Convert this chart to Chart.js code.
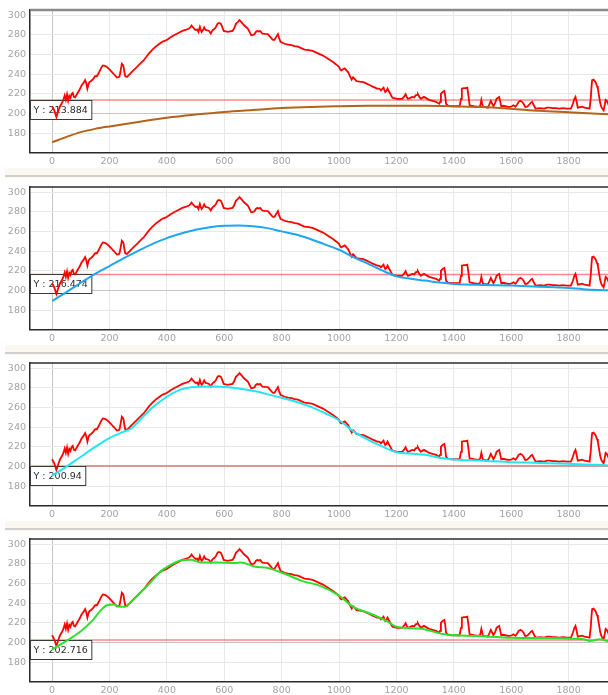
<!DOCTYPE html>
<html>
<head>
<meta charset="utf-8">
<script src="https://cdn.jsdelivr.net/npm/chart.js@4.4.1/dist/chart.umd.min.js"></script>
<style>
  html, body { margin: 0; padding: 0; background: #fff; overflow: hidden; width: 608px; height: 695px; }
  .panel { position: absolute; left: 0; width: 640px; height: 176px; }
  .panel canvas { display: block; }
  .sep { position: absolute; left: 5px; width: 640px; height: 10px; background: #fbf7f3; z-index: 2; }
  .sep::after { content: ""; position: absolute; left: 0; right: 0; top: 7px; height: 2px; background: #d3cec9; }
</style>
</head>
<body>
<div class="panel" style="top:0px"><canvas id="c0" width="640" height="176"></canvas></div>
<div class="panel" style="top:177px"><canvas id="c1" width="640" height="176"></canvas></div>
<div class="panel" style="top:353px"><canvas id="c2" width="640" height="176"></canvas></div>
<div class="panel" style="top:529px"><canvas id="c3" width="640" height="176"></canvas></div>
<div class="sep" style="top:168px"></div>
<div class="sep" style="top:345px"></div>
<div class="sep" style="top:521px"></div>

<script>
// ---- axis ticks ----
const xTicks = [0, 200, 400, 600, 800, 1000, 1200, 1400, 1600, 1800];
const yTicks = [180, 200, 220, 240, 260, 280, 300];

// ---- measured signal (x, y) ----
const signalX = [0,8,15,22,27,33,39,44,48,52,56,60,64,68,72,76,80,85,91,97,103,109,115,119,123,127,130,136,144,150,156,162,167,172,177,184,191,200,208,216,226,232,235,239,243,247,249,252,255,261,270,278,287,296,308,319,328,337,348,360,372,384,392,401,413,425,440,454,465,477,483,486,490,495,500,506,510,515,518,521,526,530,535,541,547,553,556,559,565,571,575,579,584,588,593,598,605,612,620,629,635,641,647,653,658,664,670,676,682,688,694,700,705,710,715,720,726,730,734,742,752,760,766,770,775,781,787,791,796,803,810,822,834,845,857,868,880,894,908,925,944,960,979,990,1000,1004,1008,1014,1020,1026,1032,1038,1044,1049,1055,1061,1072,1085,1096,1108,1117,1126,1132,1138,1142,1146,1150,1155,1158,1161,1165,1169,1173,1179,1184,1188,1195,1202,1212,1220,1226,1232,1236,1240,1248,1255,1262,1267,1272,1275,1280,1285,1290,1296,1305,1314,1326,1338,1349,1352,1355,1361,1367,1370,1373,1380,1391,1405,1420,1425,1428,1435,1442,1447,1451,1455,1470,1485,1492,1496,1499,1502,1510,1518,1523,1529,1534,1538,1544,1549,1553,1558,1562,1565,1572,1579,1588,1596,1602,1608,1615,1620,1626,1632,1638,1643,1649,1656,1664,1668,1673,1678,1685,1700,1715,1725,1732,1745,1755,1767,1780,1795,1808,1815,1820,1824,1828,1832,1840,1848,1855,1865,1873,1877,1880,1882,1887,1894,1899,1902,1906,1910,1914,1918,1922,1926,1929,1933,1938,1942,1946,1955,1965];
const signalY = [207.5,203,196.5,203,207,210,213.6,218.6,214,219.5,213,218,216,220,221,217,216.5,219,222,225,228.8,231,234,231,225.4,230,232,233,235.6,238,238,241,244,247,249,248.5,247.5,245,242.4,240,236.6,237,238,244,250.8,249.5,248,242,238,237.3,240,242.4,245,247.5,251,254,257.5,261,264.5,267.8,270.5,273,274,275,277.5,279.7,282,284,285,286.4,288,289.5,288,286.4,285,285.4,283,288,285,283,285,287.5,285,284.7,284,281.4,283,284.7,286,288,290.5,292,292,291.5,288,284,283.5,283,283.5,284,287,291.5,293,295,293.5,291.5,289.5,288,286.4,283,279.7,280,280.7,283,284,283.5,284,282,281.4,281,280.7,278,276,275,275,278,280.7,277,273,272,271,270,269.5,268.5,268,266.5,265,264.5,263.7,261.5,259,256,252.5,250,247.5,245,244,245,246,244,242,238,234.6,237,235,233,232.5,232,230.5,228.8,227.5,226.4,225.5,225.4,225,223.7,225,226.4,224,222,223,225.4,223,220,217,216,215.5,215,215,215,217,219.7,217,215,216,217,216.5,218.6,219,219.7,217,215,216,217,215.5,214,213,212,210,212,220,222,223,218,210,208,207.5,207.5,207.5,215,225.4,226,226,226.4,218,208.5,207.5,206.8,208,214,210,206.8,206.5,206,209,213,210,207.5,211,215,216,217,212,207.5,208,207.5,207,206.8,207.5,208.5,207,209,212,213,212,210,206.8,207,209.5,211,212,209,205,205.5,205,206,206,205.5,205.5,205,205.5,205,205,210,215,217,212,206,206.5,207,206,205.5,205,215,228,234,234.5,232,228,225.4,218,211,206.8,205,203.4,209,214,213,210,206,203,202.5,202];

// ---- fitted curves, one per panel ----
const fit1X = [0,50,100,150,200,300,400,500,600,700,800,900,1000,1100,1200,1300,1400,1500,1600,1700,1800,1900,2000];
const fit1Y = [170.8,176.4,181.2,184.5,187,191.5,195.8,199,201.7,203.7,205.6,206.8,207.5,208,208.1,208,207.5,206.8,205,202.8,201.4,200,198.6];

const fit2X = [0,50,100,150,200,250,300,350,400,450,500,550,600,650,700,750,800,850,900,950,1000,1050,1100,1150,1200,1250,1300,1350,1400,1500,1600,1700,1800,1850,1900,2000];
const fit2Y = [189.5,198.5,208,217,225,233,240.5,247.5,253.4,258,261.9,264.5,266,266.3,265.5,263.5,260.2,257,252.5,247,241.5,234,227.5,220.5,214.5,212,210.2,208.2,206.8,205.8,205.1,204,202.7,201.5,200.7,200];

const fit3X = [0,50,100,150,200,250,275,300,350,400,450,500,550,600,650,700,750,800,850,900,950,1000,1050,1100,1150,1200,1250,1300,1350,1400,1500,1600,1700,1800,1900,1950,2000];
const fit3Y = [190.8,200,210,220,229,235.5,238.5,245.5,260,271,278.5,281,281.3,281,279.5,277,273.7,270,266,261,254.5,247.1,235.8,227.5,220.5,214.7,213.3,212,209,207.2,206,204.5,203.8,202.8,201.8,201,200.5];

const fit4X = [0,50,100,144,167,191,214,237,255,272,307,343,378,413,448,483,518,577,635,658,705,752,810,873,932,1000,1049,1108,1167,1200,1285,1367,1485,1602,1696,1814,1860,1873,1890,1908,1946,2000];
const fit4Y = [193,201.7,211.5,223.6,232,238,238.7,236.4,236.4,240.4,250.5,261.3,272.4,279.1,283.5,284.2,281.5,281.5,280.8,281.5,277.4,275.8,270,262.5,257.9,247.8,236.4,229.6,221.9,216.2,214.1,208.4,206.7,205,204.7,204,203,201.7,202.5,203.4,200.7,200];

// ---- reference levels shown by the horizontal line and its tag ----
const refLevels = [213.884, 216.474, 200.94, 202.716];

const fitColors = ['#b5631a', '#1ea6f0', '#22e6f2', '#2ee02e'];
const topBorder = [{ c: '#8a8a8a', w: 2.5 }, { c: '#2a2a2a', w: 1.5 }, { c: '#2a2a2a', w: 1.5 }, { c: '#2a2a2a', w: 1.5 }];

const X_MIN = -77, X_MAX = 2000;
const Y_MIN = 160.5, Y_MAX = 305.3;

const zip = (xs, ys) => xs.map((x, i) => ({ x, y: ys[i] }));

// Draws the top edge of the plot frame.
const frameTop = {
  id: 'frameTop',
  afterDraw(chart, args, opts) {
    const { ctx, chartArea: a } = chart;
    ctx.save();
    ctx.strokeStyle = opts.color;
    ctx.lineWidth = opts.width;
    ctx.beginPath();
    ctx.moveTo(a.left, a.top);
    ctx.lineTo(a.right, a.top);
    ctx.stroke();
    ctx.restore();
  }
};

// Value tag hanging under the reference line, painted below the signal.
const levelTag = {
  id: 'levelTag',
  beforeDatasetDraw(chart, args, opts) {
    if (args.index !== 1) return;
    const { ctx, chartArea: a } = chart;
    const y = chart.scales.y.getPixelForValue(opts.value);
    const text = 'Y : ' + String(opts.value);
    ctx.save();
    ctx.font = '9.5px "DejaVu Sans"';
    const w = ctx.measureText(text).width + 7;
    const h = 19;
    const x = a.left;
    ctx.fillStyle = '#ffffff';
    ctx.fillRect(x, y, w, h);
    ctx.strokeStyle = '#3a3a3a';
    ctx.lineWidth = 1;
    ctx.strokeRect(x + 0.5, Math.round(y) + 0.5, w, h);
    ctx.fillStyle = '#2b2b2b';
    ctx.textBaseline = 'middle';
    ctx.fillText(text, x + 3.5, y + h / 2 + 1);
    ctx.restore();
  }
};

const fits = [zip(fit1X, fit1Y), zip(fit2X, fit2Y), zip(fit3X, fit3Y), zip(fit4X, fit4Y)];
const signal = zip(signalX, signalY);
const plainNumber = v => String(v);

fits.forEach((fitData, i) => {
  const level = refLevels[i];
  new Chart(document.getElementById('c' + i), {
    type: 'line',
    data: {
      datasets: [
        { data: fitData, borderColor: fitColors[i], borderWidth: 2, pointRadius: 0, cubicInterpolationMode: 'monotone', fill: false },
        { data: signal, borderColor: '#ff0000', borderWidth: 1.8, pointRadius: 0, tension: 0, fill: false },
        { data: [{ x: X_MIN, y: level }, { x: X_MAX, y: level }], borderColor: 'rgba(255,70,70,0.65)', borderWidth: 1.5, pointRadius: 0, fill: false }
      ]
    },
    options: {
      responsive: false,
      animation: false,
      events: [],
      layout: { padding: { top: 10, right: 14, left: 0, bottom: 0 } },
      plugins: {
        legend: { display: false },
        tooltip: { enabled: false },
        frameTop: { color: topBorder[i].c, width: topBorder[i].w },
        levelTag: { value: level }
      },
      scales: {
        x: {
          type: 'linear',
          min: X_MIN,
          max: X_MAX,
          afterBuildTicks: s => { s.ticks = xTicks.map(v => ({ value: v })); },
          afterFit: s => { s.height = 23.5; },
          grid: {
            color: c => (c.tick && c.tick.value === 0) ? '#c4c4c4' : '#e8e8e8',
            lineWidth: 1,
            drawTicks: false
          },
          border: { color: '#2a2a2a', width: 1.5 },
          ticks: { color: '#a3a3a3', font: { family: 'DejaVu Sans', size: 9.5 }, padding: 3, maxRotation: 0, autoSkip: false, callback: plainNumber }
        },
        y: {
          type: 'linear',
          min: Y_MIN,
          max: Y_MAX,
          afterBuildTicks: s => { s.ticks = yTicks.map(v => ({ value: v })); },
          afterFit: s => { s.width = 30; },
          grid: {
            color: c => (c.tick && c.tick.value === 200) ? '#c4c4c4' : '#e8e8e8',
            lineWidth: 1,
            drawTicks: false
          },
          border: { color: '#2a2a2a', width: 1.5 },
          ticks: { color: '#a3a3a3', font: { family: 'DejaVu Sans', size: 9.5 }, padding: 4, callback: plainNumber }
        }
      }
    },
    plugins: [frameTop, levelTag]
  });
});
</script>
</body>
</html>
